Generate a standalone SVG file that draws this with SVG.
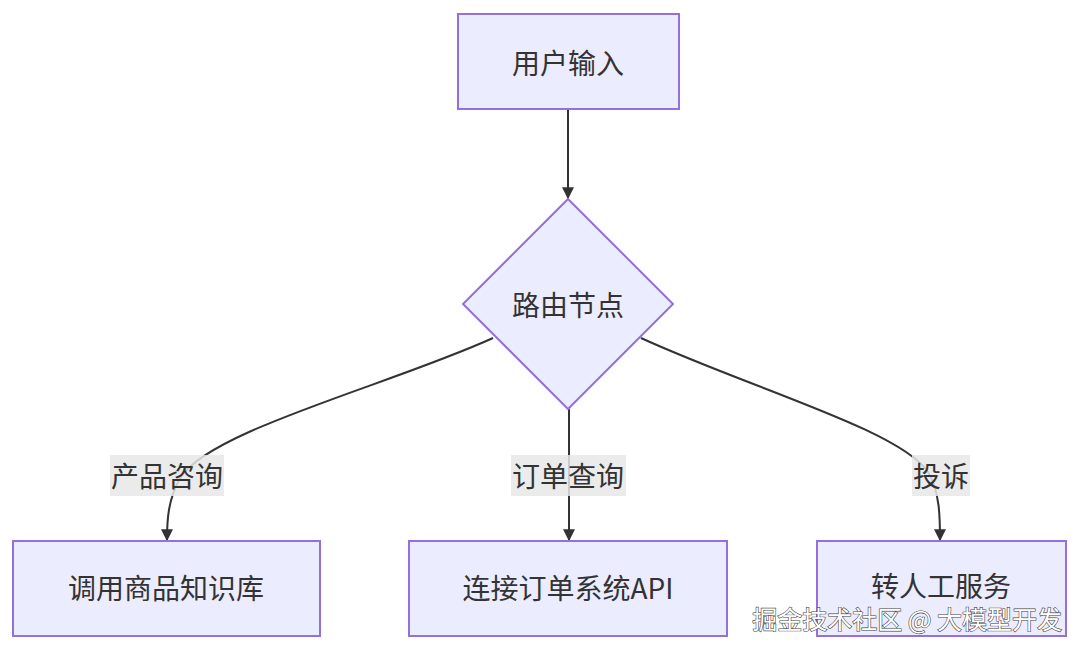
<svg xmlns="http://www.w3.org/2000/svg" width="1080" height="651" viewBox="0 0 1080 651">
<defs>
<marker id="arr" viewBox="0 0 10 10" refX="9" refY="5" markerWidth="12" markerHeight="12" markerUnits="userSpaceOnUse" orient="auto">
<path d="M0,0 L10,5 L0,10 z" fill="#333"/>
</marker>
<style>
.node{fill:#ECECFF;stroke:#9370DB;stroke-width:2}
.t{font-family:"Noto Sans CJK SC","Noto Sans",sans-serif;font-size:28px;fill:#333;text-anchor:middle;dominant-baseline:central}
.edge{fill:none;stroke:#333;stroke-width:2;marker-end:url(#arr)}
.lbg{fill:#E8E8E8;fill-opacity:0.85}
.wm{font-family:"Noto Sans CJK SC",sans-serif;font-size:25px;fill:#fff;stroke:#444;stroke-width:1.2;paint-order:stroke;text-anchor:end}
</style>
</defs>
<rect width="1080" height="651" fill="#fff"/>
<g id="connectors">
<path class="edge" d="M568,110 L568,198"/>
<path class="edge" d="M493,338 C390,385 210,430 180,478 C168,500 167,520 167,540"/>
<path class="edge" d="M569,409 L569,540"/>
<path class="edge" d="M641,338 C750,388 900,430 928,472 C940,492 940,518 940,540"/>
</g>
<g id="edge-labels">
<g id="lbl-product"><rect class="lbg" x="110" y="455" width="114" height="41"/><text class="t" x="167" y="475">产品咨询</text></g>
<g id="lbl-order"><rect class="lbg" x="511" y="455" width="115" height="41"/><text class="t" x="568" y="475">订单查询</text></g>
<g id="lbl-complain"><rect class="lbg" x="912" y="455" width="58" height="41"/><text class="t" x="941" y="475">投诉</text></g>
</g>
<g id="n-input"><rect class="node" x="458" y="14" width="221" height="95"/><text class="t" x="568" y="62">用户输入</text></g>
<g id="n-router"><polygon class="node" points="568,199 673,304 568,409 463,304"/><text class="t" x="568" y="304">路由节点</text></g>
<g id="n-kb"><rect class="node" x="13" y="541" width="307" height="95"/><text class="t" x="166" y="587">调用商品知识库</text></g>
<g id="n-api"><rect class="node" x="409" y="541" width="318" height="95"/><text class="t" x="568" y="587">连接订单系统API</text></g>
<g id="n-human"><rect class="node" x="817" y="541" width="249" height="95"/><text class="t" x="941" y="585">转人工服务</text></g>
<text class="wm" x="1062" y="629">掘金技术社区 @ 大模型开发</text>
</svg>
